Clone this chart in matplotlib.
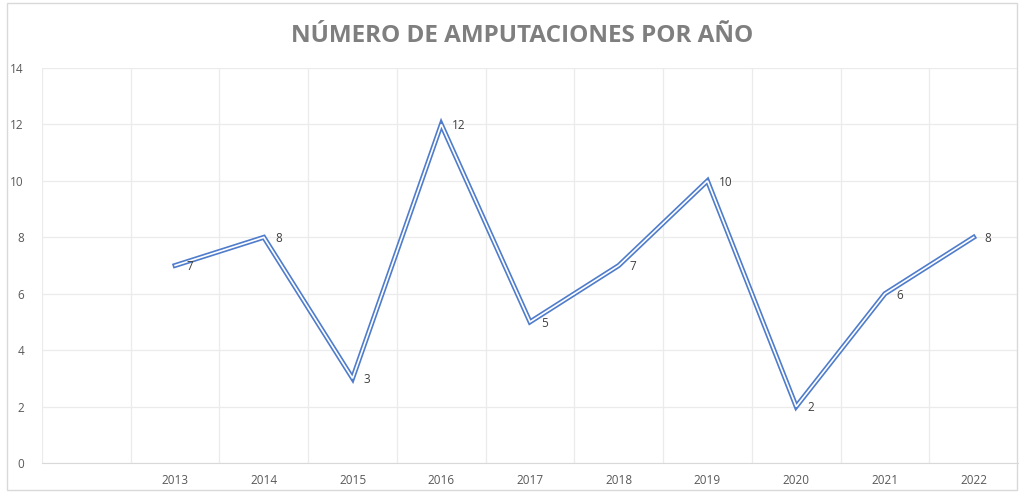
import matplotlib.pyplot as plt
from matplotlib.patches import Rectangle

# data
years = ['', '2013', '2014', '2015', '2016', '2017', '2018', '2019', '2020', '2021', '2022']
amputaciones = [None, 7, 8, 3, 12, 5, 7, 10, 2, 6, 8]

plt.rcParams['font.family'] = ['Open Sans', 'DejaVu Sans']

fig = plt.figure(figsize=(10.22, 4.92), dpi=100)
ax = fig.add_axes([42 / 1022, 1 - 463 / 492, 976 / 1022, 395 / 492])

# chart area frame
fig.patches.append(Rectangle((7 / 1022, 2 / 492), 1010 / 1022, 487 / 492, transform=fig.transFigure,
                             fill=False, edgecolor='#d9d9d9', linewidth=1))

xs = [i for i, v in enumerate(amputaciones) if v is not None]
ys = [v for v in amputaciones if v is not None]

# double line look: blue outline with white centre
ax.plot(xs, ys, color='#4f7ccb', linewidth=3.6, solid_joinstyle='miter', zorder=3)
ax.plot(xs, ys, color='white', linewidth=1.2, solid_joinstyle='miter', zorder=4)

for x, y in zip(xs, ys):
    ax.annotate(str(y), (x, y), xytext=(8, -1), textcoords='offset points',
                ha='left', va='center', fontsize=8.5, color='#404040', zorder=5)

ax.set_xlim(-0.5, len(years) - 0.5)
ax.set_ylim(0, 14)
ax.set_yticks(range(0, 15, 2))
ax.set_xticks(range(len(years)))
ax.set_xticklabels(years)
ax.set_xticks([i - 0.5 for i in range(len(years) + 1)], minor=True)

ax.grid(False)
ax.yaxis.grid(True, color='#ebebeb', linewidth=0.9)
ax.xaxis.grid(True, which='minor', color='#ebebeb', linewidth=0.9)
ax.tick_params(axis='both', which='both', length=0, colors='#595959', labelsize=8.5)
ax.tick_params(axis='y', pad=13)
ax.tick_params(axis='x', pad=8)

for s in ['top', 'right', 'left']:
    ax.spines[s].set_visible(False)
ax.spines['bottom'].set_color('#d9d9d9')

fig.text(0.511, 1 - 36 / 492, 'NÚMERO DE AMPUTACIONES POR AÑO', ha='center', va='center',
         fontsize=17.5, fontweight='bold', color='#7f7f7f')

fig.savefig('out.png', dpi=100)
